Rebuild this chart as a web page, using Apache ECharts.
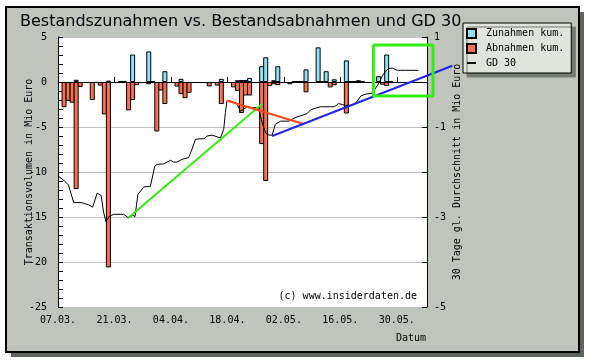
<!DOCTYPE html>
<html><head><meta charset="utf-8">
<script src="https://cdn.jsdelivr.net/npm/echarts@6/dist/echarts.min.js"></script>
<style>html,body{margin:0;padding:0;background:#fff}#c{width:589px;height:362px}</style>
</head><body><div id="c"></div>
<script>
// ---- data ----
const startDate = '2010-03-07';
const xTickLabels = ['07.03.','21.03.','04.04.','18.04.','02.05.','16.05.','30.05.'];
const barDates = ['2010-03-08','2010-03-09','2010-03-10','2010-03-11','2010-03-12',
  '2010-03-15','2010-03-16','2010-03-17','2010-03-18','2010-03-19',
  '2010-03-22','2010-03-23','2010-03-24','2010-03-25','2010-03-26',
  '2010-03-29','2010-03-30','2010-03-31','2010-04-01','2010-04-02',
  '2010-04-05','2010-04-06','2010-04-07','2010-04-08',
  '2010-04-13','2010-04-15','2010-04-16',
  '2010-04-19','2010-04-20','2010-04-21','2010-04-22','2010-04-23',
  '2010-04-26','2010-04-27','2010-04-28','2010-04-29','2010-04-30',
  '2010-05-03','2010-05-04','2010-05-05','2010-05-06','2010-05-07',
  '2010-05-10','2010-05-11','2010-05-12','2010-05-13','2010-05-14',
  '2010-05-17','2010-05-18','2010-05-19','2010-05-20','2010-05-21',
  '2010-05-25','2010-05-26','2010-05-27','2010-05-28'];
const zunahmen = [null,null,null,0.25,null,
  null,null,null,null,0.15,
  0.12,0.12,null,3.05,null,
  3.4,0.1,null,null,1.2,
  null,0.35,null,null,
  null,null,0.35,
  null,0.2,0.22,0.22,0.45,
  1.75,2.75,null,0.2,1.75,
  null,0.1,0.05,0.1,1.4,
  3.85,0.05,1.2,null,0.3,
  2.4,0.05,0.08,0.2,0.05,
  0.65,null,3.05,0.05];
const abnahmen = [-2.8,-2.1,-2.3,-11.9,-0.55,
  -2.0,-0.1,-0.4,-3.6,-20.6,
  null,null,-3.15,-2.0,-0.35,
  -0.25,null,-5.5,-0.95,-2.45,
  -0.5,-1.35,-1.8,-1.2,
  -0.5,-0.4,-2.45,
  -0.6,-1.0,-3.45,-1.5,-1.5,
  -6.9,-11.0,-0.45,-0.25,-0.35,
  -0.25,null,null,null,-1.15,
  null,null,null,-0.6,-0.35,
  -3.5,null,null,null,null,
  null,-0.3,-0.45,null];
// GD 30: days since start date, value (Mio Euro, right axis)
const gdDays = [0,1.4,2.6,3.9,5.9,7.6,8.6,9.7,10.7,11.3,11.9,12.6,13.8,16.3,17.5,18.5,19.1,19.8,21.3,22.9,
  24.0,24.6,26.2,27.9,28.7,29.5,30.7,32.4,33.2,34.1,36.2,37.0,38.2,39.5,40.3,41.1,41.5,41.9,42.7,44.4,
  45.2,46.4,47.2,48.2,49.0,49.8,50.6,51.5,52.3,53.1,53.9,55.2,57.2,58.8,60.5,61.8,62.6,63.9,65.1,67.5,
  68.5,69.6,70.5,71.3,72.9,74.1,75.1,76.3,77.9,78.6,79.6,80.4,81.2,82.0,82.9,84.1,84.9,89.4];
const gdValues = [-2.09,-2.18,-2.29,-2.68,-2.68,-2.73,-2.78,-2.47,-2.52,-2.89,-3.11,-2.99,-2.94,-2.94,-3.02,-2.96,-2.99,-2.50,-2.33,-2.32,
  -1.87,-1.83,-1.82,-1.74,-1.78,-1.78,-1.72,-1.68,-1.50,-1.27,-1.26,-1.20,-1.18,-1.22,-1.24,-1.05,-0.68,-0.42,-0.42,-0.48,
  -0.65,-0.58,-0.55,-0.57,-0.57,-0.60,-0.90,-1.13,-1.18,-1.18,-0.94,-0.87,-0.87,-0.79,-0.74,-0.70,-0.62,-0.58,-0.55,-0.55,
  -0.55,-0.48,-0.50,-0.52,-0.52,-0.44,-0.31,-0.27,-0.25,-0.16,-0.02,0.13,0.24,0.30,0.31,0.26,0.26,0.26];
// hand-drawn annotations (day, right-axis value)
const greenTrendDays = [17.5, 50.6];   const greenTrendValues = [-3.01, -0.49];
const orangeTrendDays = [41.8, 61.1];  const orangeTrendValues = [-0.41, -0.94];
const blueTrendDays = [53.1, 97.8];    const blueTrendValues = [-1.2, 0.36];
const boxDays = [78.2, 93.0, 93.0, 78.2, 78.2]; const boxValues = [0.82, 0.82, -0.31, -0.31, 0.82];

// ---- build ----
const DAY = 86400000;
const t0 = Date.parse(startDate + 'T00:00:00Z');
const dayOf = s => (Date.parse(s + 'T00:00:00Z') - t0) / DAY;
const pairs = (xs, ys) => xs.map((x, i) => [x, ys[i]]);
const mono = 'DejaVu Sans Mono';
const X_MAX = 91.5, PLOT_W = 369;
const chart = echarts.init(document.getElementById('c'));
chart.setOption({
  animation: false,
  backgroundColor: '#ffffff',
  title: {
    text: 'Bestandszunahmen vs. Bestandsabnahmen und GD 30',
    left: 15, top: 9,
    textStyle: {fontFamily: 'DejaVu Sans', fontSize: 16, fontWeight: 'normal', color: '#000'}
  },
  legend: {
    orient: 'vertical', left: 463, top: 23,
    padding: [5, 7, 5, 3], itemGap: 4, itemWidth: 9, itemHeight: 9,
    backgroundColor: '#e0e4dc', borderColor: '#000', borderWidth: 1,
    shadowColor: '#737a72', shadowOffsetX: 4, shadowOffsetY: 4, shadowBlur: 0,
    textStyle: {fontFamily: mono, fontSize: 10, color: '#000', padding: [0, 0, 0, 5]},
    data: [
      {name: 'Zunahmen kum.', icon: 'rect'},
      {name: 'Abnahmen kum.', icon: 'rect'},
      {name: 'GD 30', itemStyle: {opacity: 0}, lineStyle: {width: 2, color: '#000'}}
    ]
  },
  graphic: [
    {type: 'rect', z: -100, shape: {x: 11, y: 12, width: 573, height: 345}, style: {fill: '#5d655d'}},
    {type: 'rect', z: -99, shape: {x: 6, y: 7, width: 573, height: 345}, style: {fill: '#bfc5bd', stroke: '#000', lineWidth: 2}},
    {type: 'text', z: 100, style: {text: '(c) www.insiderdaten.de', x: 417, y: 296, align: 'right', verticalAlign: 'middle', font: '10px "DejaVu Sans Mono"', fill: '#000'}},
    {type: 'text', z: 100, style: {text: 'Datum', x: 426, y: 338, align: 'right', verticalAlign: 'middle', font: '10px "DejaVu Sans Mono"', fill: '#000'}}
  ],
  grid: [
    {left: 58, top: 37, width: PLOT_W, height: 270, show: true, backgroundColor: '#fff', borderWidth: 0},
    // same scale as the main grid, wider so hand-drawn marks can run past the right axis
    {left: 58, top: 37, width: PLOT_W * 100 / X_MAX, height: 270, show: false}
  ],
  xAxis: [{
    type: 'value', min: 0, max: X_MAX, interval: 14,
    axisLine: {show: true, lineStyle: {color: '#000', width: 1}},
    axisTick: {show: true, inside: true, length: 5, lineStyle: {color: '#000'}},
    splitLine: {show: false},
    axisLabel: {
      fontFamily: mono, fontSize: 10, color: '#000', margin: 8, showMaxLabel: false,
      formatter: v => (v % 14 === 0 ? (xTickLabels[v / 14] || '') : '')
    }
  }, {
    type: 'value', gridIndex: 1, min: 0, max: 100, show: false
  }],
  yAxis: [
    {
      type: 'value', min: -25, max: 5, interval: 5,
      name: 'Transaktionsvolumen in Mio Euro', nameLocation: 'middle', nameGap: 24, nameRotate: 90, nameMoveOverlap: false,
      nameTextStyle: {fontFamily: mono, fontSize: 10, color: '#000'},
      axisLine: {show: true, lineStyle: {color: '#000'}},
      axisTick: {show: true, inside: true, length: 5, lineStyle: {color: '#000'}},
      minorTick: {show: true, splitNumber: 5, length: 5, lineStyle: {color: '#000'}},
      splitLine: {show: true, lineStyle: {color: '#c0c0c0', width: 1}},
      axisLabel: {fontFamily: mono, fontSize: 10, color: '#000', margin: 11}
    },
    {
      type: 'value', min: -5, max: 1, interval: 2, position: 'right',
      name: '30 Tage gl. Durchschnitt in Mio Euro', nameLocation: 'middle', nameGap: 25, nameRotate: 90, nameMoveOverlap: false,
      nameTextStyle: {fontFamily: mono, fontSize: 10, color: '#000'},
      axisLine: {show: true, lineStyle: {color: '#000'}},
      axisTick: {show: true, inside: true, length: 5, lineStyle: {color: '#000'}},
      minorTick: {show: true, splitNumber: 2, length: 5, lineStyle: {color: '#000'}},
      splitLine: {show: false},
      axisLabel: {fontFamily: mono, fontSize: 10, color: '#000', margin: 7}
    },
    {type: 'value', gridIndex: 1, min: -5, max: 1, show: false}
  ],
  series: [
    {
      name: 'Zunahmen kum.', type: 'bar', yAxisIndex: 0, barWidth: 5, barGap: '-100%',
      itemStyle: {color: '#8ee4f6', borderColor: '#000', borderWidth: 1},
      data: barDates.map((d, i) => [dayOf(d) + 0.5, zunahmen[i]])
    },
    {
      name: 'Abnahmen kum.', type: 'bar', yAxisIndex: 0, barWidth: 5, barGap: '-100%',
      itemStyle: {color: '#fa7152', borderColor: '#000', borderWidth: 1},
      data: barDates.map((d, i) => [dayOf(d) + 0.5, abnahmen[i]]),
      markLine: {silent: true, symbol: 'none', label: {show: false}, lineStyle: {color: '#000', width: 1, type: 'solid'}, data: [{yAxis: 0}]}
    },
    {
      name: 'GD 30', type: 'line', yAxisIndex: 1, symbol: 'none', z: 5,
      lineStyle: {color: '#000', width: 1}, itemStyle: {color: '#000'},
      data: pairs(gdDays, gdValues)
    },
    {type: 'line', xAxisIndex: 1, yAxisIndex: 2, symbol: 'none', z: 6, clip: false, lineStyle: {color: '#33ee11', width: 2}, data: pairs(greenTrendDays, greenTrendValues)},
    {type: 'line', xAxisIndex: 1, yAxisIndex: 2, symbol: 'none', z: 6, clip: false, lineStyle: {color: '#ff4a18', width: 2}, data: pairs(orangeTrendDays, orangeTrendValues)},
    {type: 'line', xAxisIndex: 1, yAxisIndex: 2, symbol: 'none', z: 6, clip: false, lineStyle: {color: '#2424e6', width: 2}, data: pairs(blueTrendDays, blueTrendValues)},
    {type: 'line', xAxisIndex: 1, yAxisIndex: 2, symbol: 'none', z: 7, clip: false, lineStyle: {color: '#33ee11', width: 3}, data: pairs(boxDays, boxValues)}
  ]
});
</script></body></html>
